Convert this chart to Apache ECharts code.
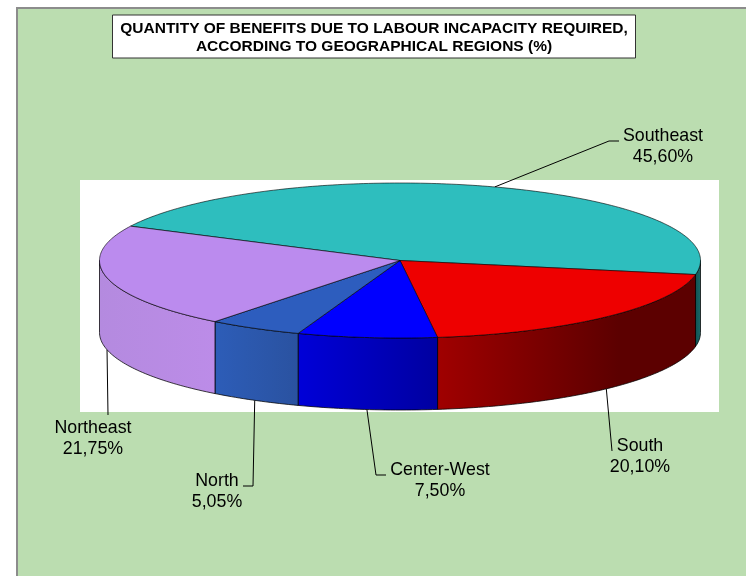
<!DOCTYPE html>
<html>
<head>
<meta charset="utf-8">
<style>
  html, body { margin: 0; padding: 0; background: #fff; }
  #chart { width: 746px; height: 576px; }
</style>
<script src="https://cdn.jsdelivr.net/npm/echarts@6/dist/echarts.min.js"></script>
</head>
<body>
<div id="chart"></div>
<script>
var regions = ['Southeast', 'South', 'Center-West', 'North', 'Northeast'];
var shares = [45.6, 20.1, 7.5, 5.05, 21.75];

var topColors = ['#2EBEBE', '#EE0000', '#0000FF', '#2D5DBE', '#BB8BEE'];
var wallStops = [
  [[0, '#0F4F4F'], [1, '#1A6A6A']],
  [[0, '#A00000'], [0.7, '#5C0000'], [1, '#5C0000']],
  [[0, '#0000D8'], [1, '#0000A0']],
  [[0, '#2D5DB8'], [1, '#2A52A0']],
  [[0, '#B48ADF'], [1, '#BC8CE8']]
];

// pie geometry, the ECharts pie has no tilt so the slices go through a custom series
var cx = 400, cy = 260.5, rx = 300.5, ry = 77.5, depth = 72;
var startAngle = -63.7;
var total = shares.reduce(function (a, b) { return a + b; }, 0);

// label centre and the elbow points of the leader lines, same order as regions
var labelPos = [[663, 147], [640, 457], [440, 481], [217, 492], [93, 439]];
var leaderBends = [
  [[609, 141], [619, 141]],
  [[612, 451]],
  [[376, 475], [386, 475]],
  [[253, 486], [243, 486]],
  [[108, 415]]
];

function rad(deg) { return deg * Math.PI / 180; }
function edgePoint(angle, drop) {
  return [cx + rx * Math.sin(rad(angle)), cy - ry * Math.cos(rad(angle)) + (drop || 0)];
}
function arcPoints(from, to, drop) {
  var pts = [];
  var n = Math.max(2, Math.ceil(Math.abs(to - from)));
  for (var i = 0; i <= n; i++) {
    pts.push(edgePoint(from + (to - from) * i / n, drop));
  }
  return pts;
}
function sliceAngles(index) {
  var before = 0;
  for (var i = 0; i < index; i++) before += shares[i];
  return [
    startAngle + before / total * 360,
    startAngle + (before + shares[index]) / total * 360
  ];
}

function renderSlice(params, api) {
  var i = params.dataIndex;
  var a = sliceAngles(i);
  var children = [];
  // side wall only on the front half of the pie
  var from = Math.max(a[0], 90);
  var to = Math.min(a[1], 270);
  if (to > from) {
    children.push({
      type: 'polygon',
      shape: { points: arcPoints(from, to, 0).concat(arcPoints(to, from, depth)) },
      style: {
        fill: new echarts.graphic.LinearGradient(0, 0, 1, 0, wallStops[i].map(function (s) {
          return { offset: s[0], color: s[1] };
        })),
        stroke: 'rgba(0,0,0,0.75)',
        lineWidth: 1
      }
    });
  }
  children.push({
    type: 'polygon',
    shape: { points: [[cx, cy]].concat(arcPoints(a[0], a[1], 0)) },
    style: { fill: topColors[i], stroke: 'rgba(0,0,0,0.6)', lineWidth: 1 }
  });
  return { type: 'group', children: children };
}

function renderLeader(params, api) {
  var i = params.dataIndex;
  var a = sliceAngles(i);
  var mid = (a[0] + a[1]) / 2;
  var frontSide = Math.cos(rad(mid)) < 0;
  var start = edgePoint(mid, frontSide ? depth : 0);
  return {
    type: 'group',
    children: [
      {
        type: 'polyline',
        shape: { points: [start].concat(leaderBends[i]) },
        style: { fill: 'none', stroke: '#000', lineWidth: 1 }
      },
      {
        type: 'text',
        x: labelPos[i][0],
        y: labelPos[i][1],
        style: {
          text: regions[i] + '\n' + api.value(0).toFixed(2).replace('.', ',') + '%',
          fill: '#000',
          font: '17.8px "Liberation Sans", Arial, sans-serif',
          lineHeight: 21,
          align: 'center',
          verticalAlign: 'middle'
        }
      }
    ]
  };
}

var chart = echarts.init(document.getElementById('chart'));

var option = {
  animation: false,
  backgroundColor: '#fff',
  title: {
    text: 'QUANTITY OF BENEFITS DUE TO LABOUR INCAPACITY REQUIRED,\nACCORDING TO GEOGRAPHICAL REGIONS (%)',
    left: 365.5,
    top: 15,
    textAlign: 'center',
    padding: [4.5, 8.5, 2.5, 8.5],
    backgroundColor: '#fff',
    borderColor: '#333',
    borderWidth: 1,
    borderRadius: 0,
    textStyle: {
      fontFamily: '"Liberation Sans", Arial, sans-serif',
      fontSize: 15.5,
      fontWeight: 'bold',
      color: '#000',
      lineHeight: 18
    }
  },
  graphic: [
    {
      type: 'rect',
      shape: { x: 17, y: 8, width: 800, height: 700 },
      style: { fill: '#BBDDB0', stroke: '#8C8C8C', lineWidth: 2 }
    },
    {
      type: 'rect',
      shape: { x: 80, y: 180, width: 639, height: 232 },
      style: { fill: '#fff' }
    }
  ],
  series: [
    {
      type: 'custom',
      coordinateSystem: 'none',
      silent: true,
      z: 2,
      data: shares,
      renderItem: renderLeader
    },
    {
      type: 'custom',
      coordinateSystem: 'none',
      silent: true,
      z: 3,
      data: shares,
      renderItem: renderSlice
    }
  ]
};

chart.setOption(option);
</script>
</body>
</html>
